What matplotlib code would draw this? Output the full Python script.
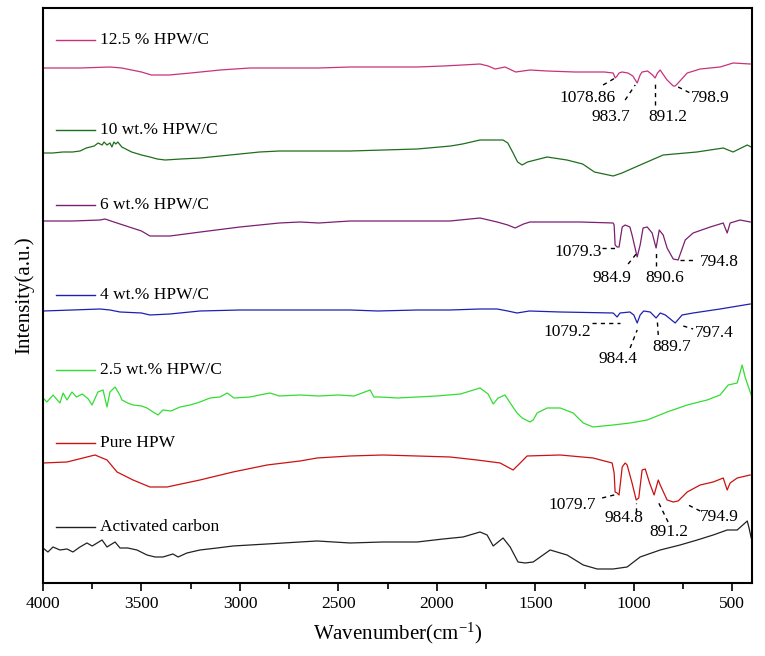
import matplotlib
matplotlib.use("Agg")
import matplotlib.pyplot as plt
from matplotlib.ticker import MultipleLocator

plt.rcParams['font.family'] = ['Liberation Serif', 'DejaVu Serif']
plt.rcParams['mathtext.fontset'] = 'stix'

# spectra (wavenumber, relative intensity)
w_125 = [4000, 3810, 3660, 3600, 3500, 3450, 3360, 3250, 3100, 2950, 2800, 2600, 2440, 2280, 2100,
         1968, 1870, 1781, 1740, 1704, 1654, 1600, 1527, 1440, 1300, 1150, 1105, 1095, 1085, 1075,
         1060, 1030, 1005, 983, 968, 958, 930, 905, 892, 880, 866, 856, 831, 800, 790, 775, 729,
         663, 562, 496, 409]
i_125 = [515, 515, 516, 515, 511, 508, 508, 510, 513, 515, 515, 515, 516, 516, 516,
         517, 518, 519, 517, 514, 516, 511, 513, 512, 511, 511, 510, 505, 507, 510,
         511, 510, 507, 500, 508, 511, 512, 508, 505, 510, 513, 510, 503, 497, 497, 500, 510,
         514, 516, 520, 519]

w_10 = [4000, 3950, 3900, 3850, 3812, 3780, 3740, 3720, 3700, 3690, 3675, 3660, 3650, 3640, 3630,
        3620, 3600, 3550, 3500, 3457, 3420, 3380, 3300, 3200, 3050, 2900, 2800, 2700, 2600, 2440,
        2270, 2100, 1930, 1870, 1781, 1720, 1664, 1640, 1613, 1590, 1567, 1540, 1440, 1340, 1260,
        1200, 1105, 1060, 968, 851, 680, 546, 496, 424, 404]
i_10 = [430, 430, 431, 431, 432, 435, 437, 440, 438, 441, 438, 440, 436, 441, 439,
        441, 436, 431, 428, 426, 424, 423, 424, 425, 428, 431, 432, 432, 432, 432,
        433, 434, 437, 439, 443, 443, 443, 440, 430, 421, 418, 421, 426, 423, 419,
        411, 407, 410, 418, 428, 431, 435, 431, 438, 436]

w_6 = [4000, 3850, 3710, 3685, 3640, 3609, 3500, 3457, 3355, 3200, 3000, 2800, 2695, 2600, 2441,
       2300, 2100, 1933, 1781, 1694, 1640, 1603, 1560, 1527, 1400, 1273, 1105, 1100, 1095, 1085,
       1075, 1059, 1044, 1020, 1009, 983, 968, 953, 932, 907, 887, 871, 851, 831, 800, 775, 739,
       699, 612, 546, 526, 511, 460, 409]
i_6 = [362, 362, 363, 364, 361, 359, 352, 347, 347, 351, 356, 360, 361, 360, 362,
       362, 362, 362, 365, 361, 358, 355, 359, 361, 361, 361, 360, 358, 338, 336,
       336, 356, 358, 356, 348, 326, 338, 355, 356, 350, 335, 353, 348, 335, 324, 323, 343,
       350, 356, 360, 350, 360, 363, 361]

w_4 = [4000, 3850, 3710, 3660, 3609, 3500, 3457, 3355, 3203, 3000, 2695, 2441, 2300, 2100, 1933,
       1781, 1694, 1640, 1593, 1530, 1374, 1105, 1085, 1070, 1020, 1000, 983, 968, 950, 917, 887,
       866, 840, 790, 755, 699, 562, 409]
i_4 = [272, 273, 274, 273, 271, 270, 268, 269, 272, 273, 273, 273, 272, 273, 273,
       274, 274, 272, 270, 272, 271, 270, 266, 270, 271, 268, 260, 268, 272, 271, 265,
       270, 268, 260, 268, 270, 274, 279]

w_25 = [4000, 3980, 3949, 3914, 3898, 3878, 3853, 3830, 3800, 3770, 3751, 3721, 3695, 3675, 3660,
        3634, 3610, 3599, 3570, 3543, 3500, 3472, 3441, 3416, 3391, 3350, 3304, 3253, 3203, 3152,
        3101, 3065, 3030, 2949, 2900, 2847, 2800, 2695, 2600, 2500, 2420, 2339, 2320, 2288, 2200,
        2100, 2000, 1880, 1781, 1740, 1714, 1689, 1654, 1628, 1593, 1567, 1527, 1511, 1491, 1440,
        1374, 1308, 1257, 1207, 1105, 1019, 932, 831, 729, 628, 562, 521, 475, 450, 435, 404]
i_25 = [185, 181, 188, 180, 190, 183, 191, 186, 189, 184, 178, 191, 193, 176, 191,
        196, 188, 183, 180, 178, 177, 175, 171, 168, 173, 172, 176, 178, 181, 185,
        186, 190, 185, 186, 188, 190, 187, 188, 187, 188, 187, 193, 186, 186, 185,
        186, 187, 189, 195, 189, 179, 185, 188, 180, 170, 165, 161, 163, 170, 175,
        175, 170, 160, 156, 158, 160, 163, 171, 178, 183, 188, 198, 200, 218, 206, 188]

w_hpw = [4000, 3878, 3736, 3675, 3624, 3543, 3457, 3370, 3203, 3035, 2862, 2695, 2608, 2441, 2273,
         2100, 1933, 1796, 1679, 1613, 1577, 1542, 1374, 1207, 1110, 1100, 1095, 1085, 1075, 1059,
         1044, 1034, 1009, 988, 975, 958, 942, 920, 897, 876, 866, 831, 800, 775, 729, 663, 597,
         546, 526, 511, 475, 409]
i_hpw = [120, 121, 128, 123, 111, 103, 96, 96, 103, 111, 118, 122, 125, 127, 128,
         127, 126, 123, 120, 113, 120, 127, 128, 125, 120, 110, 91, 90, 88, 116,
         120, 118, 100, 83, 85, 113, 114, 100, 88, 103, 98, 83, 81, 82, 91, 98, 101,
         105, 93, 100, 105, 108]

w_ac = [4000, 3975, 3949, 3914, 3878, 3848, 3812, 3777, 3750, 3700, 3675, 3634, 3609, 3570, 3523,
        3472, 3431, 3391, 3340, 3314, 3269, 3203, 3116, 3035, 2862, 2695, 2608, 2441, 2273, 2100,
        1968, 1867, 1781, 1745, 1714, 1664, 1628, 1588, 1552, 1511, 1425, 1339, 1257, 1186, 1105,
        1034, 968, 866, 765, 678, 597, 526, 475, 424, 415, 404]
i_ac = [35, 31, 36, 33, 34, 31, 36, 40, 37, 43, 36, 41, 35, 35, 33,
        28, 26, 26, 29, 26, 30, 33, 35, 37, 39, 41, 42, 40, 41, 41,
        44, 46, 51, 48, 37, 45, 36, 21, 20, 21, 33, 28, 18, 14, 14,
        16, 26, 33, 38, 43, 48, 53, 53, 62, 55, 45]

names = ["12.5 % HPW/C", "10 wt.% HPW/C", "6 wt.% HPW/C", "4 wt.% HPW/C",
         "2.5 wt.% HPW/C", "Pure HPW", "Activated carbon"]
colors = ['#C8327A', '#1E6E1E', '#7A1F72', '#1F1FB4', '#33DD33', '#CC1111', '#222222']
label_y = [543, 453, 378, 288, 213, 140, 56]

series = [(w_125, i_125), (w_10, i_10), (w_6, i_6), (w_4, i_4),
          (w_25, i_25), (w_hpw, i_hpw), (w_ac, i_ac)]

# peak labels: text, text pos, leader start, leader end
peaks = [
    ("1078.86", (1237, 485), (1156, 498), (1095, 505)),
    ("983.7", (1115, 466), (1044, 483), (993, 498)),
    ("891.2", (826, 466), (892, 478), (892, 503)),
    ("798.9", (612, 485), (775, 496), (714, 490)),
    ("1079.3", (1283, 331), (1161, 335), (1080, 335)),
    ("984.9", (1110, 305), (1029, 319), (988, 329)),
    ("890.6", (841, 305), (887, 317), (887, 331)),
    ("794.8", (567, 321), (765, 323), (689, 323)),
    ("1079.2", (1339, 251), (1212, 260), (1069, 260)),
    ("984.4", (1080, 224), (1019, 235), (983, 253)),
    ("889.7", (805, 236), (876, 248), (881, 263)),
    ("797.4", (592, 250), (749, 257), (699, 254)),
    ("1079.7", (1313, 78), (1161, 85), (1080, 89)),
    ("984.8", (1049, 65), (988, 71), (988, 80)),
    ("891.2", (821, 51), (826, 61), (881, 83)),
    ("794.9", (567, 66), (663, 72), (724, 78)),
]

fig = plt.figure(figsize=(7.65, 6.56), dpi=100)
ax = fig.add_axes([0.0562, 0.1113, 0.9268, 0.8765])

for (w, i), c, n, ly in zip(series, colors, names, label_y):
    ax.plot(w, i, color=c, lw=0.9)
    ax.plot([3934, 3736], [ly, ly], color=c, lw=1.0)
    ax.text(3710, ly, n, fontsize=12.5, va='center', ha='left')

for txt, tp, a, b in peaks:
    ax.plot([a[0], b[0]], [a[1], b[1]], color='black', lw=1.0, ls=(0, (3, 3)))
    ax.text(tp[0], tp[1], txt, fontsize=12.5, ha='center', va='center')

ax.set_xlim(4000, 400)
ax.set_ylim(0, 575)
ax.set_yticks([])
ax.xaxis.set_major_locator(MultipleLocator(500))
ax.xaxis.set_minor_locator(MultipleLocator(250))
ax.tick_params(axis='x', which='major', direction='out', length=6, width=1.2, labelsize=12.5)
ax.tick_params(axis='x', which='minor', direction='out', length=4, width=1.2)
for s in ax.spines.values():
    s.set_linewidth(1.5)

ax.set_xlabel("Wavenumber(cm$^{\\mathregular{-1}}$)", fontsize=15, labelpad=6)
ax.set_ylabel("Intensity(a.u.)", fontsize=15, labelpad=6)

fig.savefig("out.png", dpi=100)
